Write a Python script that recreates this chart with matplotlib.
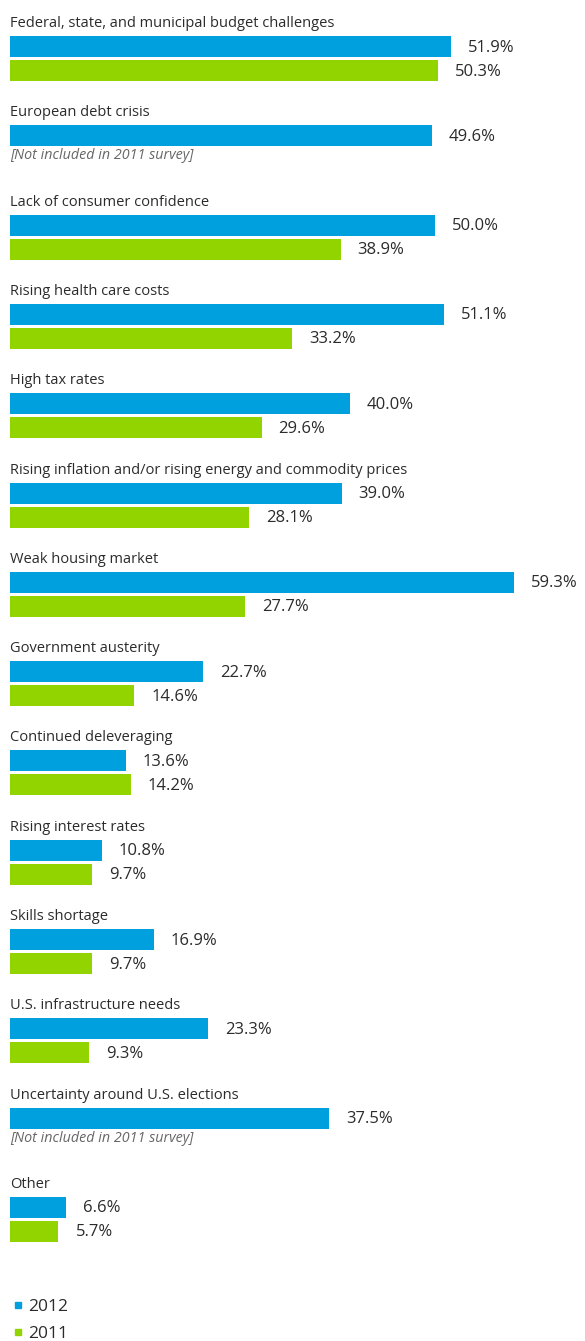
import matplotlib.pyplot as plt
from matplotlib.lines import Line2D

plt.rcParams['font.family'] = ['Open Sans', 'DejaVu Sans']

categories = [
    'Federal, state, and municipal budget challenges',
    'European debt crisis',
    'Lack of consumer confidence',
    'Rising health care costs',
    'High tax rates',
    'Rising inflation and/or rising energy and commodity prices',
    'Weak housing market',
    'Government austerity',
    'Continued deleveraging',
    'Rising interest rates',
    'Skills shortage',
    'U.S. infrastructure needs',
    'Uncertainty around U.S. elections',
    'Other',
]
values_2012 = [51.9, 49.6, 50.0, 51.1, 40.0, 39.0, 59.3, 22.7, 13.6, 10.8, 16.9, 23.3, 37.5, 6.6]
values_2011 = [50.3, None, 38.9, 33.2, 29.6, 28.1, 27.7, 14.6, 14.2, 9.7, 9.7, 9.3, None, 5.7]
series_names = ['2012', '2011']

BLUE = '#00A0DE'
GREEN = '#92D400'
TEXT = '#2b2b2b'
NOTE = '#666666'

W, H = 585, 1341
fig = plt.figure(figsize=(W / 100, H / 100), dpi=100)
ax = fig.add_axes([0, 0, 1, 1])

# x in percent (8.5 px per point, bars start at 10 px), y in pixels from the top
px_per_pct = 8.5
ax.set_xlim(-10 / px_per_pct, (W - 10) / px_per_pct)
ax.set_ylim(H, 0)
ax.axis('off')

group_step = 89.3
first_top = 36
bar_h = 21
gap_lbl = 17 / px_per_pct

for i, cat in enumerate(categories):
    top = first_top + i * group_step
    ax.text(0, top - 9, cat, fontsize=10.5, color=TEXT, va='baseline', ha='left')

    y1 = top + bar_h / 2
    ax.barh(y1, values_2012[i], height=bar_h, left=0, color=BLUE)
    ax.text(values_2012[i] + gap_lbl, y1 + 1, f'{values_2012[i]:.1f}%',
            fontsize=12, color=TEXT, va='center', ha='left')

    y2 = top + 24 + bar_h / 2
    if values_2011[i] is None:
        ax.text(0, top + 34, '[Not included in 2011 survey]', fontsize=10.3,
                style='italic', color=NOTE, va='baseline', ha='left')
    else:
        ax.barh(y2, values_2011[i], height=bar_h, left=0, color=GREEN)
        ax.text(values_2011[i] + gap_lbl, y2 + 1, f'{values_2011[i]:.1f}%',
                fontsize=12, color=TEXT, va='center', ha='left')

handles = [
    Line2D([], [], marker='s', linestyle='none', markersize=5, color=BLUE, label=series_names[0]),
    Line2D([], [], marker='s', linestyle='none', markersize=5, color=GREEN, label=series_names[1]),
]
fig.legend(handles=handles, loc='upper left', bbox_to_anchor=(13 / W, 1 - 1299 / H),
           frameon=False, fontsize=12.5, handlelength=0.6, handletextpad=0.25,
           labelspacing=0.6, borderpad=0, borderaxespad=0, labelcolor=TEXT)

fig.savefig('out.png', dpi=100, facecolor='white')
